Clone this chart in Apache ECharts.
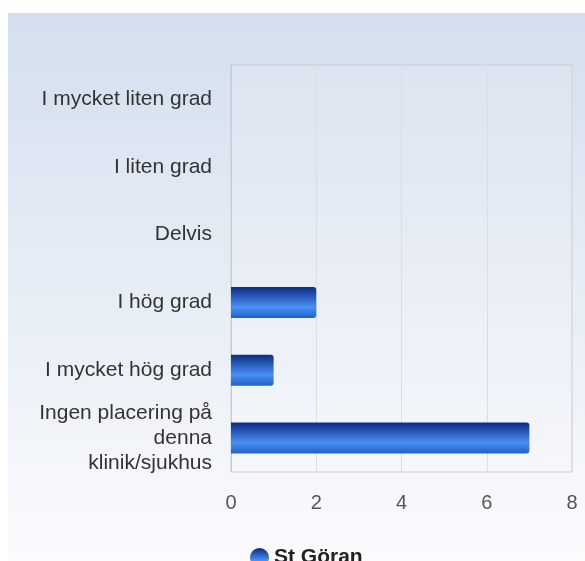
<!DOCTYPE html>
<html>
<head>
<meta charset="utf-8">
<script src="https://cdn.jsdelivr.net/npm/echarts@6/dist/echarts.min.js"></script>
<style>
  html, body { margin: 0; padding: 0; background: #fff; }
  #main { width: 585px; height: 561px; }
</style>
</head>
<body>
<div id="main"></div>
<script>
// svarsalternativ, uppifrån och ned
var categories = [
    'I mycket liten grad',
    'I liten grad',
    'Delvis',
    'I hög grad',
    'I mycket hög grad',
    'Ingen placering på\ndenna\nklinik/sjukhus'
];
var seriesName = 'St Göran';
var values = [0, 0, 0, 2, 1, 7];
var xTicks = [0, 2, 4, 6, 8];

var barColor = new echarts.graphic.LinearGradient(0, 0, 0, 1, [
    {offset: 0, color: '#0b2a85'},
    {offset: 0.65, color: '#4a90f2'},
    {offset: 1, color: '#2260c8'}
]);

var myChart = echarts.init(document.getElementById('main'));

myChart.setOption({
    animation: false,
    textStyle: {
        fontFamily: 'Liberation Sans, Arial, sans-serif'
    },
    graphic: [{
        type: 'rect',
        left: 8,
        top: 13,
        z: -10,
        shape: {width: 577, height: 548},
        style: {
            fill: new echarts.graphic.LinearGradient(0, 0, 0, 1, [
                {offset: 0, color: '#d3dfee'},
                {offset: 1, color: '#fafbfd'}
            ])
        }
    }],
    legend: {
        left: 245,
        top: 542,
        icon: 'circle',
        itemWidth: 19,
        itemHeight: 19,
        itemGap: 6,
        textStyle: {
            fontSize: 21,
            fontWeight: 'bold',
            color: '#222'
        },
        data: [seriesName]
    },
    grid: {
        left: 231,
        top: 65,
        width: 341,
        height: 407,
        show: true,
        borderColor: '#c6ccd6',
        borderWidth: 1,
        backgroundColor: new echarts.graphic.LinearGradient(0, 0, 0, 1, [
            {offset: 0, color: '#dce4f0'},
            {offset: 1, color: '#f5f7fb'}
        ])
    },
    xAxis: {
        type: 'value',
        min: xTicks[0],
        max: xTicks[xTicks.length - 1],
        interval: 2,
        axisLine: {show: false},
        axisTick: {show: false},
        axisLabel: {
            fontSize: 20,
            color: '#555',
            margin: 21
        },
        splitLine: {
            lineStyle: {color: '#d9dde4'}
        }
    },
    yAxis: {
        type: 'category',
        inverse: true,
        data: categories,
        axisLine: {
            lineStyle: {color: '#c6ccd6'}
        },
        axisTick: {show: false},
        axisLabel: {
            fontSize: 21,
            color: '#333',
            margin: 19,
            lineHeight: 25
        }
    },
    series: [{
        name: seriesName,
        type: 'bar',
        data: values,
        barWidth: 31,
        itemStyle: {
            color: barColor,
            borderRadius: [0, 3, 3, 0]
        }
    }]
});
</script>
</body>
</html>
